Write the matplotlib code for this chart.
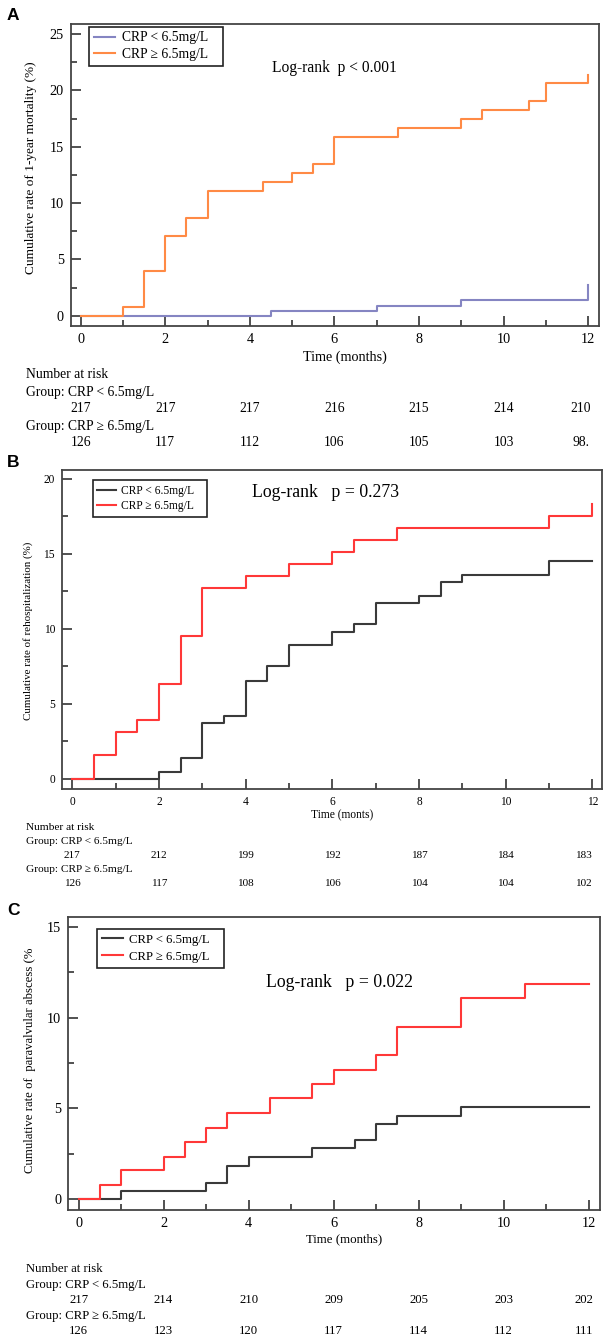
import matplotlib
matplotlib.use('Agg')
import matplotlib.pyplot as plt
from matplotlib.ticker import MultipleLocator
from matplotlib.transforms import blended_transform_factory

W, H = 603, 1339

# ---- data ----
A_times_low = [0, 4.5, 7, 9, 12]
A_rate_low = [0, 0.45, 0.9, 1.4, 2.75]
A_times_high = [0, 1, 1.5, 2, 2.5, 3, 4.3, 5, 5.5, 6, 7.5, 9, 9.5, 10.6, 11, 12]
A_rate_high = [0, 0.8, 3.95, 7.1, 8.7, 11.1, 11.9, 12.7, 13.5, 15.9, 16.7, 17.5, 18.3, 19.05, 20.65, 21.4]

B_times_low = [0, 2, 2.5, 3, 3.5, 4, 4.5, 5, 6, 6.5, 7, 8, 8.5, 9, 11, 12]
B_rate_low = [0, 0.45, 1.4, 3.7, 4.2, 6.55, 7.5, 8.9, 9.8, 10.3, 11.7, 12.2, 13.1, 13.6, 14.5, 14.5]
B_times_high = [0, 0.5, 1, 1.5, 2, 2.5, 3, 4, 5, 6, 6.5, 7.5, 11, 12]
B_rate_high = [0, 1.6, 3.15, 3.95, 6.35, 9.55, 12.7, 13.5, 14.35, 15.15, 15.95, 16.75, 17.55, 18.3]

C_times_low = [0, 1, 3, 3.5, 4, 5.5, 6.5, 7, 7.5, 9, 12]
C_rate_low = [0, 0.45, 0.9, 1.85, 2.35, 2.8, 3.25, 4.15, 4.6, 5.1, 5.1]
C_times_high = [0, 0.5, 1, 2, 2.5, 3, 3.5, 4.5, 5.5, 6, 7, 7.5, 9, 10.5, 12]
C_rate_high = [0, 0.8, 1.6, 2.35, 3.15, 3.95, 4.75, 5.55, 6.35, 7.1, 7.95, 9.5, 11.1, 11.85, 11.85]

risk_times = [0, 2, 4, 6, 8, 10, 12]
A_risk_low = ['217', '217', '217', '216', '215', '214', '210']
A_risk_high = ['126', '117', '112', '106', '105', '103', '98.']
B_risk_low = ['217', '212', '199', '192', '187', '184', '183']
B_risk_high = ['126', '117', '108', '106', '104', '104', '102']
C_risk_low = ['217', '214', '210', '209', '205', '203', '202']
C_risk_high = ['126', '123', '120', '117', '114', '112', '111']

label_low = 'CRP < 6.5mg/L'
label_high = 'CRP \u2265 6.5mg/L'

plt.rcParams['font.family'] = ['Liberation Serif', 'DejaVu Serif']
plt.rcParams['mathtext.default'] = 'regular'

fig = plt.figure(figsize=(W / 100, H / 100), dpi=100)


def fx(px):
    return px / W


def fy(px):
    return 1 - px / H


def panel(rect_px, xlim, ylim, ymax, curves, letter, letter_y, ylabel, ylab_xy,
          xlabel, xlab_y, logrank, logrank_xy, leg_xy, risk_low, risk_high, rows_y,
          fs_tick, fs_lab, fs_ylab, fs_leg, fs_lr, fs_risk, risk_x, leg_spacing, leg_pad):
    l, t, r, b = rect_px
    ax = fig.add_axes([fx(l), fy(b), fx(r) - fx(l), fy(t) - fy(b)])
    for times, rate, col, lab in curves:
        # trailing blanks widen the legend box like the original software did
        ax.step(times, rate, where='post', color=col, lw=1.5, label=lab + '   ')
    ax.set_xlim(*xlim)
    ax.set_ylim(*ylim)
    ax.xaxis.set_major_locator(MultipleLocator(2))
    ax.xaxis.set_minor_locator(MultipleLocator(1))
    ax.set_yticks(list(range(0, ymax + 1, 5)))
    ax.yaxis.set_minor_locator(MultipleLocator(2.5))
    ax.tick_params(which='both', direction='in', top=False, right=False,
                   width=1.2, color='#333333', labelsize=fs_tick)
    ax.tick_params(which='major', length=7, pad=5)
    ax.tick_params(which='minor', length=4)
    for s in ax.spines.values():
        s.set_color('#444444')
        s.set_linewidth(1.3)

    leg = ax.legend(loc='upper left', bbox_to_anchor=(fx(leg_xy[0]), fy(leg_xy[1])),
                    bbox_transform=fig.transFigure, fontsize=fs_leg, fancybox=False,
                    edgecolor='#222222', framealpha=1, borderpad=leg_pad,
                    handlelength=1.6, handletextpad=0.5, labelspacing=leg_spacing,
                    borderaxespad=0)
    leg.get_frame().set_linewidth(1.2)

    fig.text(fx(7), fy(letter_y), letter, family='Liberation Sans', weight='bold',
             fontsize=12.5, ha='left', va='center')
    fig.text(fx(ylab_xy[0]), fy(ylab_xy[1]), ylabel, rotation=90, fontsize=fs_ylab,
             ha='center', va='center')
    fig.text(fx((l + r) / 2 + 10), fy(xlab_y), xlabel, fontsize=fs_lab,
             ha='center', va='center')
    fig.text(fx(logrank_xy[0]), fy(logrank_xy[1]), logrank, fontsize=fs_lr,
             ha='center', va='center')

    # number at risk table under the axis
    tr = blended_transform_factory(ax.transData, fig.transFigure)
    fig.text(fx(26), fy(rows_y[0]), 'Number at risk', fontsize=fs_risk, va='center')
    fig.text(fx(26), fy(rows_y[1]), 'Group: ' + label_low, fontsize=fs_risk, va='center')
    fig.text(fx(26), fy(rows_y[3]), 'Group: ' + label_high, fontsize=fs_risk, va='center')
    for i, tm in enumerate(risk_times):
        xx = risk_x if tm == 12 else tm
        ax.text(xx, fy(rows_y[2]), risk_low[i], transform=tr, fontsize=fs_risk,
                ha='center', va='center', clip_on=False)
        ax.text(xx, fy(rows_y[4]), risk_high[i], transform=tr, fontsize=fs_risk,
                ha='center', va='center', clip_on=False)
    return ax


purple = '#8585c2'
orange = '#ff8a45'
dark = '#3a3a3a'
red = '#ff3838'

panel((70.7, 24, 598.7, 325.7), (-0.236, 12.25), (-0.89, 25.9), 25,
      [(A_times_low, A_rate_low, purple, label_low),
       (A_times_high, A_rate_high, orange, label_high)],
      'A', 16, 'Cumulative rate of 1-year mortality (%)', (31, 168),
      'Time (months)', 357, 'Log-rank  p < 0.001', (334, 68), (88.8, 26.7),
      A_risk_low, A_risk_high, [374.5, 392.5, 409, 426.5, 442.5],
      10.3, 10.2, 9.5, 9.8, 11.2, 9.8, 11.83, 0.25, 0.35)

panel((62, 470, 601.5, 789.3), (-0.238, 12.21), (-0.69, 20.6), 20,
      [(B_times_low, B_rate_low, dark, label_low),
       (B_times_high, B_rate_high, red, label_high)],
      'B', 462.5, 'Cumulative rate of rehospitalization (%)', (28, 631),
      'Time (monts)', 815.7, 'Log-rank   p = 0.273', (326, 492.7), (92.5, 480),
      B_risk_low, B_risk_high, [827, 841, 855.7, 870, 883.5],
      8.3, 8.3, 7.9, 8.3, 12.8, 8.1, 11.8, 0.3, 0.4)

panel((68, 916.7, 600, 1209.7), (-0.25, 12.27), (-0.57, 15.55), 15,
      [(C_times_low, C_rate_low, dark, label_low),
       (C_times_high, C_rate_high, red, label_high)],
      'C', 910.5, 'Cumulative rate of  paravalvular abscess (%', (30, 1060),
      'Time (months)', 1239.3, 'Log-rank   p = 0.022', (340, 982.3), (97.2, 928.7),
      C_risk_low, C_risk_high, [1268.7, 1284.7, 1300, 1315.7, 1331.5],
      10.3, 9.3, 9.2, 9.2, 12.8, 9.2, 11.9, 0.4, 0.4)

fig.savefig('out.png', dpi=100, facecolor='white')
